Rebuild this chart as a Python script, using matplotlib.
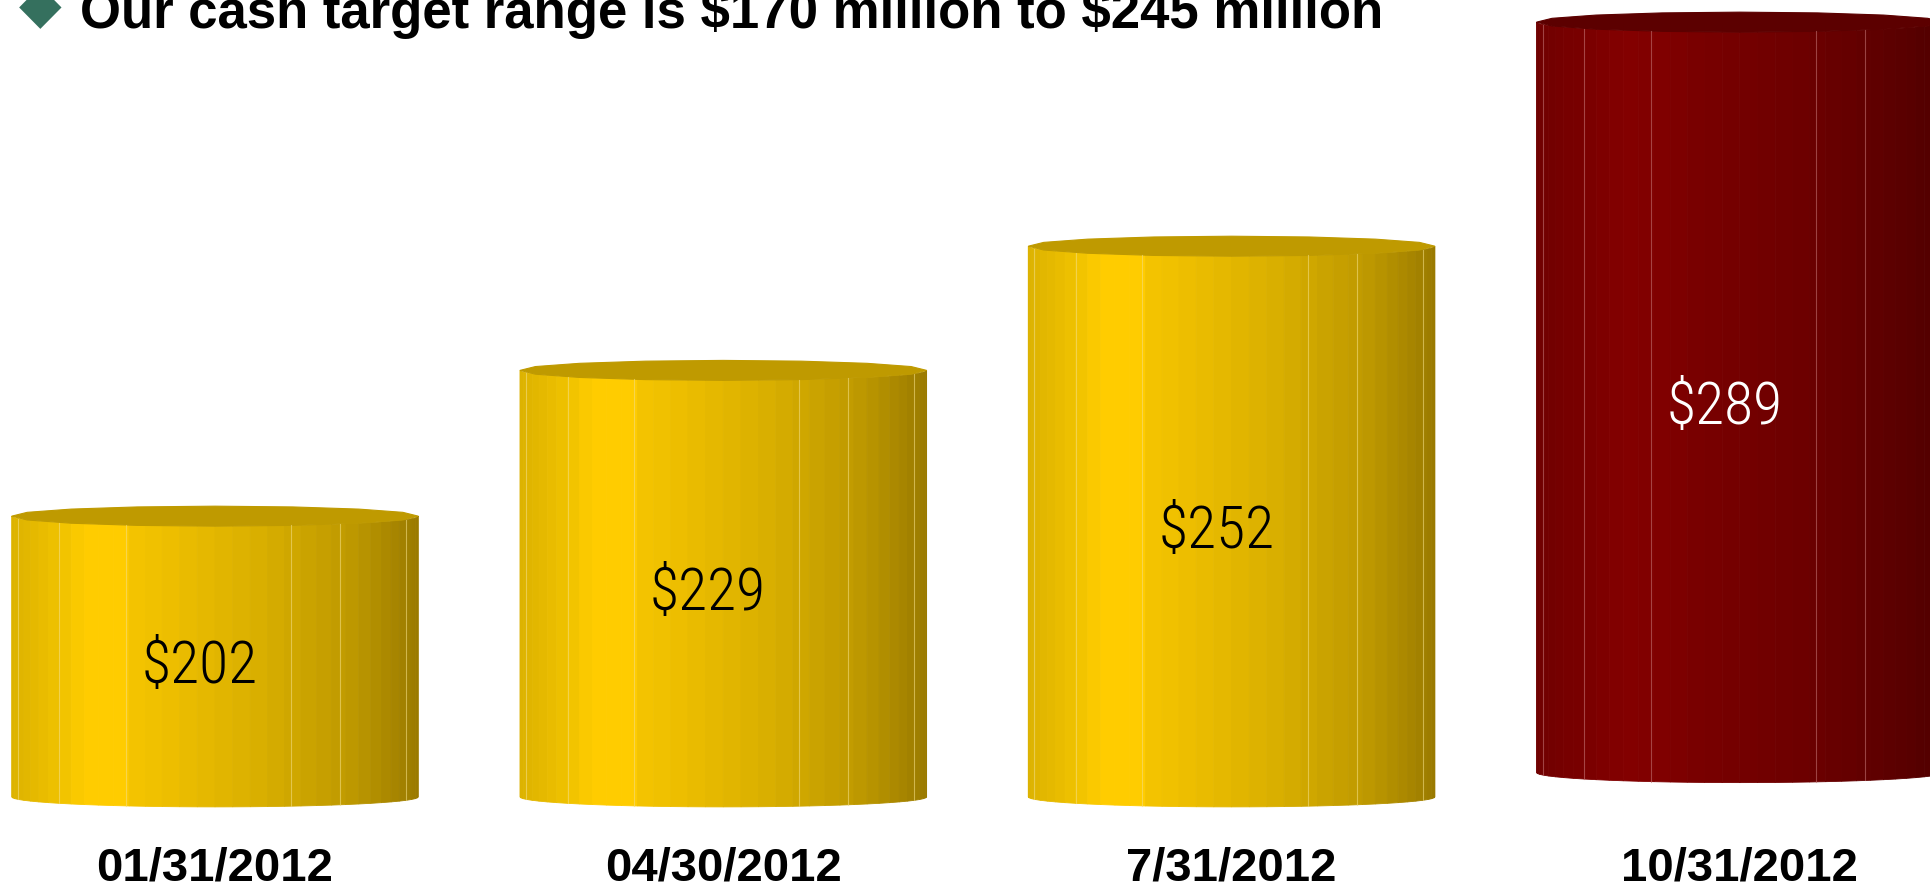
import numpy as np
import matplotlib
matplotlib.use("Agg")
import matplotlib.pyplot as plt
from matplotlib import font_manager
from matplotlib.colors import LinearSegmentedColormap
from matplotlib.patches import Polygon

# cash balance ($ millions) at each quarter end
dates = ["01/31/2012", "04/30/2012", "7/31/2012", "10/31/2012"]
cash = [202, 229, 252, 289]
title = r"Our cash target range is \$170 million to \$245 million"

BASE = 150          # value where the cylinders sit
RX, RY = 0.40, 1.85  # cylinder half width (x units) and ellipse half height (value units)
N_FACETS = 36

# narrow face for the value labels, if one is installed
installed = {f.name for f in font_manager.fontManager.ttflist}
narrow = next((n for n in ["Liberation Sans Narrow", "Roboto Condensed",
                           "DejaVu Sans Condensed", "Open Sans Condensed"]
               if n in installed), None)
if narrow:
    label_font, label_size = narrow, 43
else:
    label_font, label_size = "Liberation Sans", 39

gold = LinearSegmentedColormap.from_list("gold", [
    (0.00, "#dcb200"), (0.12, "#f0c200"), (0.18, "#ffcc00"), (0.27, "#ffcc00"),
    (0.30, "#f4c400"), (0.45, "#e8ba00"), (0.60, "#dab000"), (0.72, "#cca400"),
    (0.84, "#bd9800"), (0.93, "#aa8800"), (1.00, "#9a7a00")])
red = LinearSegmentedColormap.from_list("red", [
    (0.00, "#700000"), (0.12, "#7a0000"), (0.22, "#830000"), (0.31, "#800000"),
    (0.40, "#780000"), (0.60, "#700000"), (0.78, "#640000"), (0.90, "#5a0000"),
    (1.00, "#500000")])

styles = [
    dict(cmap=gold, top="#bf9a00", seam="#f2dc80", label="black", lift=0.0),
    dict(cmap=gold, top="#bf9a00", seam="#f2dc80", label="black", lift=0.0),
    dict(cmap=gold, top="#bf9a00", seam="#f2dc80", label="black", lift=0.0),
    dict(cmap=red, top="#5c0000", seam="#c07070", label="white", lift=4.5),
]
seam_angles = np.radians([14, 40, 64, 112, 128, 160])


def draw_cylinder(ax, xc, y0, y1, st):
    # side facets, left to right across the front half
    th = np.linspace(np.pi, 0, N_FACETS + 1)
    xs = xc + RX * np.cos(th)
    dy = RY * np.sin(th)
    for k in range(N_FACETS):
        f = ((xs[k] + xs[k + 1]) / 2 - (xc - RX)) / (2 * RX)
        poly = [(xs[k], y0 - dy[k]), (xs[k + 1], y0 - dy[k + 1]),
                (xs[k + 1], y1 - dy[k + 1]), (xs[k], y1 - dy[k])]
        ax.add_patch(Polygon(poly, closed=True, facecolor=st["cmap"](f),
                             edgecolor=st["cmap"](f), linewidth=0.6))
    # thin lighter seams between some facets
    for a in seam_angles:
        x = xc - RX * np.cos(a)
        d = RY * np.sin(a)
        ax.plot([x, x], [y0 - d, y1 - d], color=st["seam"], lw=0.8, alpha=0.6)
    # slightly polygonal top cap
    ang = np.linspace(0, 2 * np.pi, 17)
    cap = np.column_stack([xc + RX * np.cos(ang), y1 + RY * np.sin(ang)])
    ax.add_patch(Polygon(cap, closed=True, facecolor=st["top"],
                         edgecolor=st["top"], linewidth=0.8))


fig = plt.figure(figsize=(19.31, 8.86), dpi=100)
ax = fig.add_axes([0, 0, 1, 1])
ax.set_xlim(-0.423, 3.376)
ax.set_ylim(133.5, 297.6)
ax.axis("off")

for i, (d, v) in enumerate(zip(dates, cash)):
    st = styles[i]
    y0 = BASE + st["lift"]
    y1 = v + st["lift"]
    draw_cylinder(ax, i, y0, y1, st)
    ax.text(i - 0.03, (y0 + y1) / 2 - 1.9, rf"\${v}", ha="center", va="center",
            fontsize=label_size, fontweight="light", color=st["label"],
            family=label_font)
    ax.text(i, 0.006, d, transform=ax.get_xaxis_transform(), ha="center",
            va="baseline", fontsize=34, fontweight="bold", family="Liberation Sans")

fig.text(0.0207, 0.975, "\u25c6", ha="center", va="baseline", fontsize=40,
         color="#35705e", family="DejaVu Sans")
fig.text(0.0414, 0.968, title, ha="left", va="baseline", fontsize=38,
         fontweight="bold", family="Liberation Sans")

fig.savefig("out.png", dpi=100)
